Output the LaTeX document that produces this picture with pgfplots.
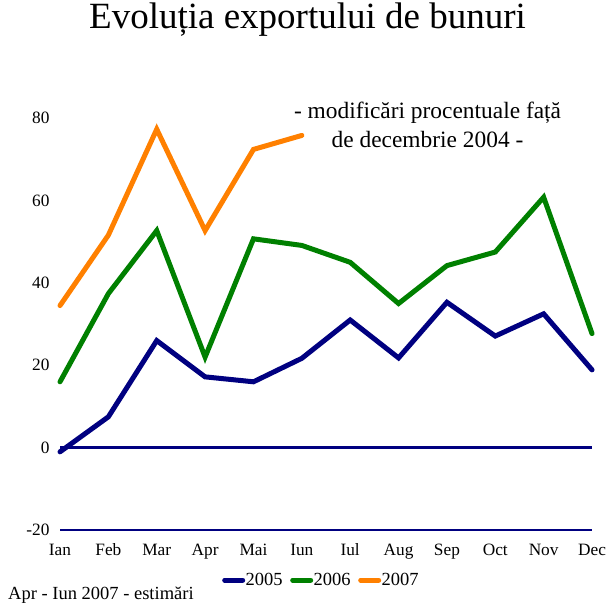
\documentclass[border=0pt]{standalone}
\usepackage{pgfplots}
\pgfplotsset{compat=1.18}
\usepackage{fontspec}
\setmainfont{Liberation Serif}

\definecolor{c2005}{RGB}{0,0,128}
\definecolor{c2006}{RGB}{0,128,0}
\definecolor{c2007}{RGB}{255,128,0}

\begin{document}
\begin{tikzpicture}
\begin{axis}[
  scale only axis,
  width=532pt, height=412pt,
  xmin=0, xmax=11, ymin=-20, ymax=80,
  clip=false,
  axis x line=bottom, axis y line=left,
  x axis line style={draw=c2005, line width=2.5pt, -},
  y axis line style={draw=none},
  major tick length=0pt,
  xtick={0,...,11},
  xticklabels={Ian,Feb,Mar,Apr,Mai,Iun,Iul,Aug,Sep,Oct,Nov,Dec},
  ytick={-20,0,20,40,60,80},
  /pgf/number format/assume math mode=true,
  tick label style={font=\fontsize{17.3}{20}\selectfont},
  xticklabel style={anchor=base, yshift=-25pt},
  yticklabel style={xshift=-7pt},
  legend columns=-1,
  legend image code/.code={\draw[#1] (0pt,0pt) -- (18pt,0pt);},
  legend style={at={(rel axis cs:0.3045,-0.1214)}, anchor=west, draw=none, fill=none,
    inner sep=0pt, font=\fontsize{18.5}{20}\selectfont,
    nodes={inner sep=0.5pt},
    /tikz/every even column/.append style={column sep=7pt}},
  every axis plot/.append style={line width=5pt, line cap=round},
]
\addplot[c2005, line width=2.5pt, line cap=butt, forget plot] coordinates {(0,0) (11,0)};

\addplot[c2005] coordinates {
  (0,-1.0) (1,7.5) (2,26.0) (3,17.2) (4,16.0) (5,21.7)
  (6,31.0) (7,21.8) (8,35.3) (9,27.1) (10,32.5) (11,18.9)};
\addlegendentry{2005}

\addplot[c2006] coordinates {
  (0,16.0) (1,37.4) (2,52.7) (3,22.0) (4,50.7) (5,49.1)
  (6,45.0) (7,35.0) (8,44.2) (9,47.5) (10,60.8) (11,27.7)};
\addlegendentry{2006}

\addplot[c2007] coordinates {
  (0,34.5) (1,51.6) (2,77.3) (3,52.7) (4,72.4) (5,75.8)};
\addlegendentry{2007}

\node[anchor=base, font=\fontsize{37}{40}\selectfont] at (rel axis cs:0.4653,1.2163) {Evoluția exportului de bunuri};
\node[anchor=base, font=\fontsize{23.4}{26}\selectfont] at (rel axis cs:0.6908,0.9983) {- modificări procentuale față};
\node[anchor=base, font=\fontsize{23.4}{26}\selectfont] at (rel axis cs:0.6908,0.9296) {de decembrie 2004 -};
\node[anchor=base west, inner sep=0pt, font=\fontsize{18.5}{20}\selectfont] at (rel axis cs:-0.0977,-0.1675) {Apr - Iun 2007 - estimări};

\path (rel axis cs:-0.1128,-0.1772) rectangle (rel axis cs:1.0338,1.2816);
\end{axis}
\end{tikzpicture}
\end{document}
